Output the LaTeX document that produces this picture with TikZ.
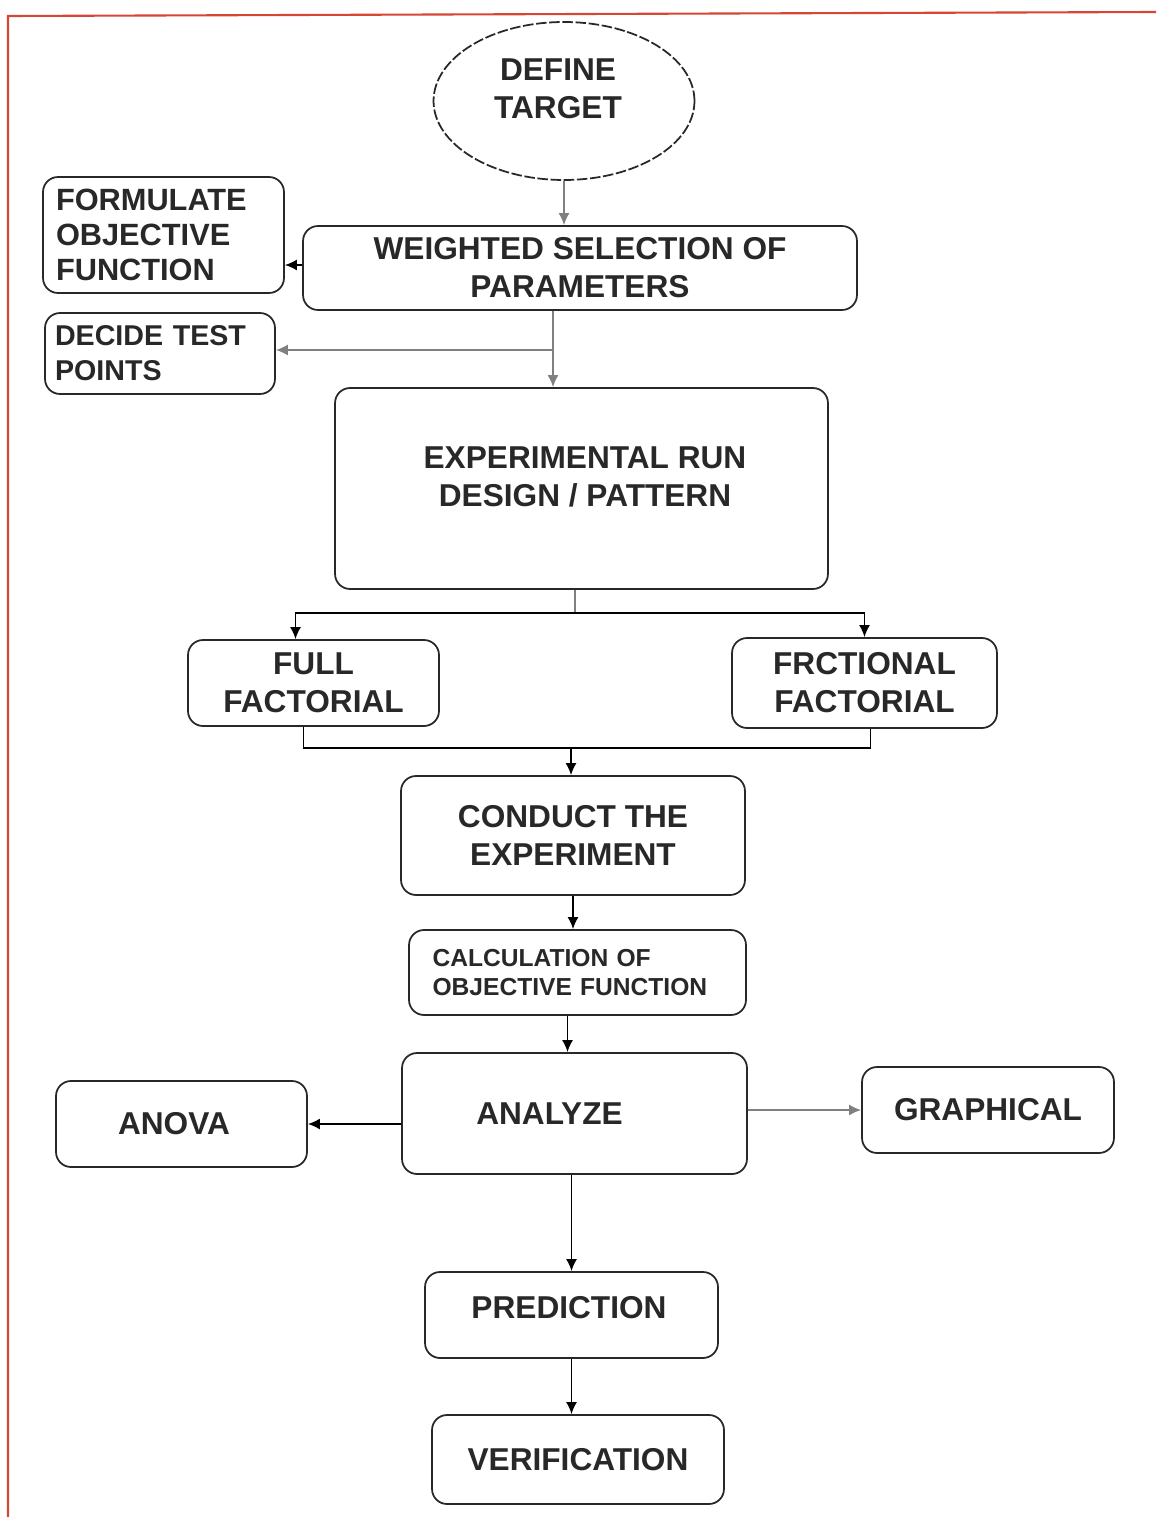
\documentclass[tikz,border=0pt]{standalone}
\usepackage{fontspec}
\setmainfont{Liberation Sans}
\usetikzlibrary{shapes.geometric,arrows.meta,calc}
\definecolor{pageedge}{RGB}{214,70,52}
\definecolor{inkgray}{RGB}{40,40,40}
\begin{document}
\begin{tikzpicture}[x=0.02cm, y=-0.02cm,
        box/.style={draw=inkgray, line width=1pt, rounded corners=0.3cm, align=center,
            font=\fontsize{18}{21.6}\selectfont\bfseries, text=inkgray, inner sep=0pt},
        boxtext/.style={align=center, font=\fontsize{18}{21.6}\selectfont\bfseries, text=inkgray, inner sep=0pt},
        arr/.style={line width=1pt, -{Latex[length=2.4mm,width=2.2mm]}},
        wire/.style={line width=1pt}]
                    \useasboundingbox (0, 0) rectangle (1156, 1517);

                    \draw[pageedge, line width=1.2pt] (8, 1517) -- (8, 16) -- (1156, 12);

                    \node[draw=inkgray, ellipse, dash pattern=on 6pt off 1.5pt, line width=1pt,
                        minimum width=5.22cm, minimum height=3.16cm, inner sep=0pt] (target) at (564, 101) {};
                    \node[boxtext] (targettext) at (558, 89) {DEFINE\\TARGET};
                    \node[box, minimum width=4.82cm, minimum height=2.32cm, align=left, text width=4.3cm,
                        font=\fontsize{17.5}{19.8}\selectfont\bfseries] (formulate) at (163.5, 235) {FORMULATE\\OBJECTIVE\\FUNCTION};
                    \node[box, minimum width=11.08cm, minimum height=1.68cm] (weighted) at (580, 268) {WEIGHTED SELECTION OF\\PARAMETERS};
                    \node[box, minimum width=4.6cm, minimum height=1.62cm, align=left, text width=4.2cm,
                        font=\fontsize{16.3}{19.8}\selectfont\bfseries] (decide) at (160, 353.5) {DECIDE TEST\\POINTS};
                    \node[box, minimum width=9.86cm, minimum height=4.02cm] (exprun) at (581.5, 488.5) {};
                    \node[boxtext] (exprunText) at (585, 477) {EXPERIMENTAL RUN\\DESIGN / PATTERN};
                    \node[box, minimum width=5.02cm, minimum height=1.72cm] (full) at (313.5, 683) {FULL\\FACTORIAL};
                    \node[box, minimum width=5.3cm, minimum height=1.8cm] (frac) at (864.5, 683) {FRCTIONAL\\FACTORIAL};
                    \node[box, minimum width=6.88cm, minimum height=2.38cm] (conduct) at (573, 835.5) {CONDUCT THE\\EXPERIMENT};
                    \node[box, minimum width=6.74cm, minimum height=1.7cm, align=left, text width=5.8cm,
                        font=\fontsize{14}{17}\selectfont\bfseries] (calc) at (577.5, 972.5) {CALCULATION OF\\OBJECTIVE FUNCTION};
                    \node[box, minimum width=6.9cm, minimum height=2.42cm] (analyze) at (574.5, 1113.5) {ANALYZE\hspace{1cm}};
                    \node[box, minimum width=5.02cm, minimum height=1.72cm] (anova) at (181.5, 1124) {ANOVA\hspace{0.3cm}};
                    \node[box, minimum width=5.04cm, minimum height=1.72cm] (graph) at (988, 1110) {GRAPHICAL};
                    \node[box, minimum width=5.86cm, minimum height=1.72cm] (predict) at (571.5, 1315) {};
                    \node[boxtext] (predictText) at (569, 1308) {PREDICTION};
                    \node[box, minimum width=5.84cm, minimum height=1.78cm] (verif) at (578, 1459.5) {VERIFICATION};

                    \draw[arr, gray] (target.south) -- (target.south |- weighted.north);
                    \draw[arr] (weighted.west |- 0, 265) -- (formulate.east |- 0, 265);

                    \coordinate (split) at (553, 350);
                    \draw[arr, gray] (weighted.south -| split) -- (exprun.north -| split);
                    \draw[arr, gray] (split) -- (split -| decide.east);

                    \coordinate (fork) at (575, 613);
                    \draw[wire, gray] (exprun.south -| fork) -- (fork);
                    \draw[arr] (fork) -| ($(full.north)+(-18, 0)$);
                    \draw[arr] (fork) -| (frac.north);

                    \coordinate (join) at (571, 748);
                    \draw[wire] ($(full.south)+(-10, 0)$) |- (join);
                    \draw[wire] ($(frac.south)+(6, 0)$) |- (join);
                    \draw[arr] (join) -- (join |- conduct.north);

                    \draw[arr] (conduct.south) -- (conduct.south |- calc.north);
                    \draw[arr] ($(calc.south)+(-10, 0)$) -- ($(calc.south |- analyze.north)+(-10, 0)$);
                    \draw[arr] (anova.east -| analyze.west) -- (anova.east);
                    \draw[arr, gray] (analyze.east |- graph.west) -- (graph.west);
                    \draw[arr] (analyze.south -| predict.north) -- (predict.north);
                    \draw[arr] (predict.south) -- (predict.south |- verif.north);
                \end{tikzpicture}
\end{document}
